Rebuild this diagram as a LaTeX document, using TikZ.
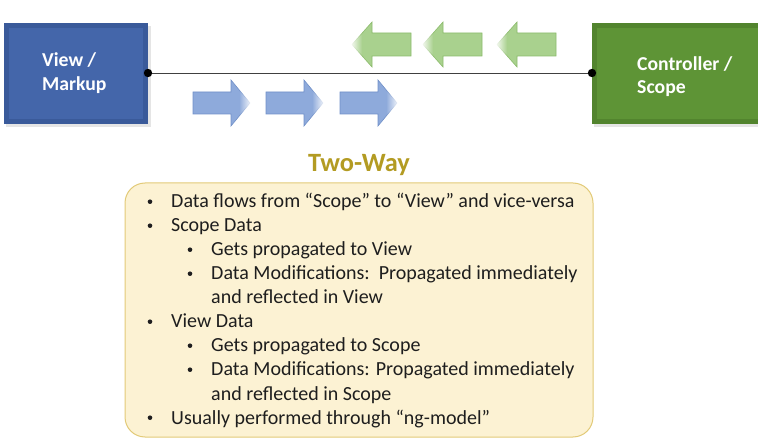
\documentclass[tikz,border=0pt]{standalone}
\usepackage{fontspec}
\setmainfont{Carlito}
\usetikzlibrary{fadings}
\definecolor{viewblue}{HTML}{4466AA}
\definecolor{viewedge}{HTML}{3A5A9A}
\definecolor{ctrlgreen}{HTML}{5E9436}
\definecolor{ctrledge}{HTML}{52842E}
\definecolor{arrblue}{HTML}{8EAADB}
\definecolor{arrblueedge}{HTML}{7090C8}
\definecolor{arrgreen}{HTML}{A9D18E}
\definecolor{arrgreenedge}{HTML}{8CBB6C}
\definecolor{titlegold}{HTML}{B39B22}
\definecolor{notefill}{HTML}{FCF2D3}
\definecolor{noteedge}{HTML}{E2CA78}
\definecolor{bodytext}{HTML}{1E1E1E}
\tikzset{
  boxlabel/.style={anchor=base west, text=white, font=\fontsize{19.7}{22}\selectfont\bfseries, inner sep=0},
  bodyline/.style={anchor=base west, text=bodytext, font=\fontsize{20}{24}\selectfont, inner sep=0},
  bulletdot/.style={fill=bodytext},
  dotstyle/.style={fill=black},
  linkline/.style={draw=black!75, line width=0.9pt},
  rightarrow/.style={fill=arrblue, draw=arrblueedge, line width=0.6pt},
  leftarrow/.style={fill=arrgreen, draw=arrgreenedge, line width=0.6pt},
}
\begin{document}
\begin{tikzpicture}[x=1pt,y=-1pt]
\useasboundingbox (0,0) rectangle (758,438);

% View / Markup block with bevelled edge
\fill[black!10] (6,26) rectangle (151,127);
\fill[viewedge] (4,23) rectangle (148,124);
\fill[viewblue] (9,28) rectangle (143,119);
\node (view) at (76,73.5) [minimum width=144pt, minimum height=101pt, inner sep=0] {};
\node[boxlabel] (viewA) at (42,67) {View /};
\node[boxlabel] (viewB) at (42,91) {Markup};

% Controller / Scope block with bevelled edge
\fill[black!10] (594,26) rectangle (758,127);
\fill[ctrledge] (592,23) rectangle (760,124);
\fill[ctrlgreen] (597,28) rectangle (760,119);
\node (ctrl) at (675,73.5) [minimum width=166pt, minimum height=101pt, inner sep=0] {};
\node[boxlabel] (ctrlA) at (637,71) {Controller /};
\node[boxlabel] (ctrlB) at (637,94) {Scope};

% binding line between the two blocks
\coordinate (pv) at (148,73);
\coordinate (pc) at (592,73);
\draw[linkline] (pv) -- (pc);
\fill[dotstyle] (pv) circle (4.2);
\fill[dotstyle] (pc) circle (4.2);

% blue arrows: view to scope
\foreach \x in {193,266,340}{
  \path[rightarrow] (\x,92) -- (\x+38,92) -- (\x+38,80) -- (\x+57,103) -- (\x+38,126) -- (\x+38,114) -- (\x,114) -- cycle;
  \fill[white, path fading=west] (\x+46,78) rectangle (\x+59,128);
}

% green arrows: scope to view
\foreach \x in {352,423,497}{
  \path[leftarrow] (\x+59,33) -- (\x+20,33) -- (\x+20,22) -- (\x,44.5) -- (\x+20,67) -- (\x+20,56) -- (\x+59,56) -- cycle;
  \fill[white, path fading=east] (\x-2,20) rectangle (\x+10,69);
}

% title
\node[anchor=base, text=titlegold, font=\fontsize{26.4}{30}\selectfont\bfseries, inner sep=0] (title) at (359,172) {Two-Way};

% notes panel
\path[fill=notefill, draw=noteedge, line width=1pt, rounded corners=20pt] (125,183) rectangle (593,437);
\node (notes) at (359,310) [minimum width=468pt, minimum height=254pt, inner sep=0] {};

\foreach \yy/\lvl/\txt [count=\i] in {
  208/1/{Data flows from “Scope” to “View” and vice-versa},
  232/1/{Scope Data},
  256/2/{Gets propagated to View},
  280/2/{Data Modifications:\ \ Propagated immediately},
  304/3/{and reflected in View},
  328/1/{View Data},
  352/2/{Gets propagated to Scope},
  376/2/{Data Modifications: Propagated immediately},
  400/3/{and reflected in Scope},
  424/1/{Usually performed through “ng-model”}}{
  \ifnum\lvl=1
    \node[bodyline] (line\i) at (171,\yy) {\txt};
    \fill[bulletdot] (150,\yy-6.3) circle (2.3);
  \fi
  \ifnum\lvl=2
    \node[bodyline] (line\i) at (211,\yy) {\txt};
    \fill[bulletdot] (190,\yy-6.3) circle (2.3);
  \fi
  \ifnum\lvl=3
    \node[bodyline] (line\i) at (211,\yy) {\txt};
  \fi
}
\end{tikzpicture}
\end{document}
